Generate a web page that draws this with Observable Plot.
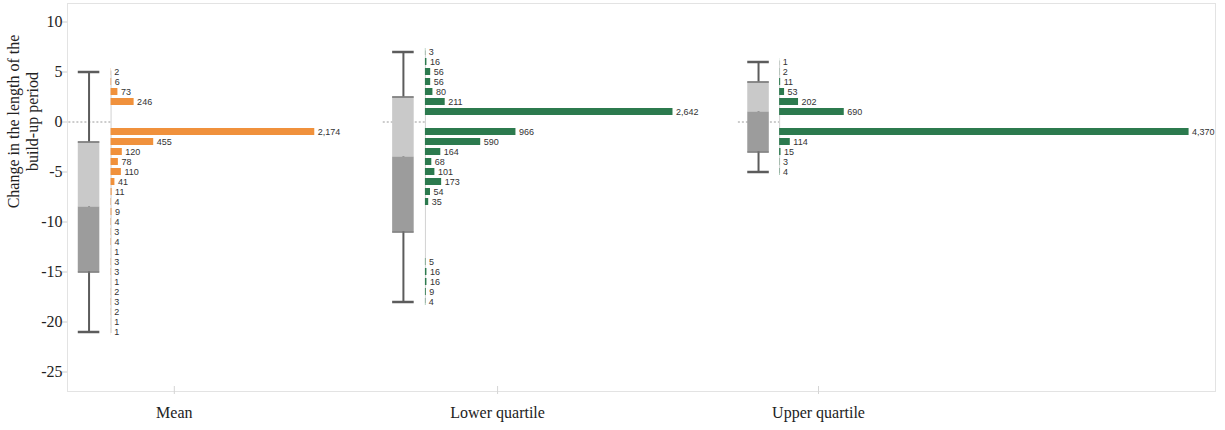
<!DOCTYPE html>
<html>
<head>
<meta charset="utf-8">
<script src="https://cdn.jsdelivr.net/npm/d3@7"></script>
<script src="https://cdn.jsdelivr.net/npm/@observablehq/plot@0.6"></script>
<style>
  body { margin: 0; background: #fff; }
  #chart svg { display: block; }
</style>
</head>
<body>
<div id="chart"></div>
<script>
// Categories along the x axis
const groups = ["Mean", "Lower quartile", "Upper quartile"];

// Histogram bins (change in build-up period) and their counts, per category
const meanBins = [5, 4, 3, 2, -1, -2, -3, -4, -5, -6, -7, -8, -9, -10, -11, -12, -13, -14, -15, -16, -17, -18, -19, -20, -21];
const meanCounts = [2, 6, 73, 246, 2174, 455, 120, 78, 110, 41, 11, 4, 9, 4, 3, 4, 1, 3, 3, 1, 2, 3, 2, 1, 1];

const lowerBins = [7, 6, 5, 4, 3, 2, 1, -1, -2, -3, -4, -5, -6, -7, -8, -14, -15, -16, -17, -18];
const lowerCounts = [3, 16, 56, 56, 80, 211, 2642, 966, 590, 164, 68, 101, 173, 54, 35, 5, 16, 16, 9, 4];

const upperBins = [6, 5, 4, 3, 2, 1, -1, -2, -3, -4, -5];
const upperCounts = [1, 2, 11, 53, 202, 690, 4370, 114, 15, 3, 4];

// Box plot summary per category
const whiskerHigh = [5, 7, 6];
const upperHinge = [-2, 2.5, 4];
const medians = [-8.5, -3.5, 1];
const lowerHinge = [-15, -11, -3];
const whiskerLow = [-21, -18, -5];

// Axis ticks
const yTicks = [10, 5, 0, -5, -10, -15, -20, -25];

// Horizontal layout, in the count units of the shared x scale
const layout = {
  tick: [1140, 4590, 8015],
  box: [230, 3585, 7375],
  base: [465, 3820, 7600],
  halfBox: 115,
  zeroLead: 215
};

const binsByGroup = [meanBins, lowerBins, upperBins];
const countsByGroup = [meanCounts, lowerCounts, upperCounts];
const colors = ["#f0913c", "#2c7a4e", "#2c7a4e"];

const bars = groups.flatMap((g, i) =>
  binsByGroup[i].map((b, j) => ({
    group: g, bin: b, count: countsByGroup[i][j],
    base: layout.base[i], color: colors[i]
  }))
);

const boxes = groups.map((g, i) => ({
  group: g,
  c: layout.box[i],
  left: layout.box[i] - layout.halfBox,
  right: layout.box[i] + layout.halfBox,
  hi: whiskerHigh[i], q3: upperHinge[i], med: medians[i], q1: lowerHinge[i], lo: whiskerLow[i],
  base: layout.base[i],
  binMax: d3.max(binsByGroup[i]), binMin: d3.min(binsByGroup[i])
}));

const fmt = d3.format(",");
const serif = "'Times New Roman', 'Liberation Serif', serif";
const sans = "Arial, 'Liberation Sans', sans-serif";

const chart = Plot.plot({
  width: 1225,
  height: 430,
  marginLeft: 67,
  marginRight: 10,
  marginTop: 3,
  marginBottom: 39,
  style: { background: "#fff" },
  x: { domain: [0, 12252] },
  y: { domain: [-26.95, 11.85] },
  marks: [
    Plot.frame({ stroke: "#e3e3e3" }),
    Plot.axisY({
      ticks: yTicks, tickSize: 5, tickPadding: 0, stroke: "#cfcfcf", fill: "#222",
      fontSize: 16, fontFamily: serif, label: null, tickFormat: d => String(d)
    }),
    // x tick marks crossing the bottom frame line
    Plot.axisX({
      ticks: layout.tick, tickSize: 8, dy: -5, stroke: "#d5d5d5",
      tickFormat: () => "", label: null
    }),
    Plot.axisX({
      ticks: layout.tick, tickSize: 0, tickPadding: 15, fill: "#222",
      fontSize: 16, fontFamily: serif, label: null,
      tickFormat: d => groups[layout.tick.indexOf(d)]
    }),
    // y axis title
    Plot.text(["Change in the length of the\nbuild-up period"], {
      frameAnchor: "left", textAnchor: "middle", rotate: -90, dx: -45, dy: -76,
      fontSize: 16, fontFamily: serif, fill: "#222", lineHeight: 1.2
    }),
    // zero reference line
    Plot.ruleY(boxes, {
      y: () => 0, x1: d => d.c - layout.zeroLead, x2: "base",
      stroke: "#9a9a9a", strokeDasharray: "2,2", strokeWidth: 1
    }),
    // histogram baseline
    Plot.ruleX(boxes, {
      x: "base", y1: d => d.binMin - 0.15, y2: d => d.binMax + 0.1,
      stroke: "#d2d2d2", strokeWidth: 1
    }),
    // whiskers
    Plot.ruleX(boxes, { x: "c", y1: "lo", y2: "hi", stroke: "#5c5c5c", strokeWidth: 2 }),
    // box halves
    Plot.rect(boxes, { x1: "left", x2: "right", y1: "med", y2: "q3", fill: "#c9c9c9" }),
    Plot.rect(boxes, { x1: "left", x2: "right", y1: "q1", y2: "med", fill: "#9c9c9c" }),
    Plot.ruleY(boxes, { y: "q3", x1: "left", x2: "right", stroke: "#707070", strokeWidth: 1.5 }),
    Plot.ruleY(boxes, { y: "q1", x1: "left", x2: "right", stroke: "#707070", strokeWidth: 1.5 }),
    // whisker caps
    Plot.ruleY(boxes, { y: "hi", x1: "left", x2: "right", stroke: "#5c5c5c", strokeWidth: 2.5 }),
    Plot.ruleY(boxes, { y: "lo", x1: "left", x2: "right", stroke: "#5c5c5c", strokeWidth: 2.5 }),
    // histogram bars
    Plot.rectX(bars, {
      x1: "base", x2: d => d.base + d.count,
      y1: d => d.bin - 0.35, y2: d => d.bin + 0.35,
      fill: "color"
    }),
    Plot.text(bars, {
      x: d => d.base + d.count, y: "bin", text: d => fmt(d.count),
      dx: 3, textAnchor: "start", fontSize: 9, fontFamily: sans, fill: "#333"
    })
  ]
});

document.getElementById("chart").appendChild(chart);
</script>
</body>
</html>
